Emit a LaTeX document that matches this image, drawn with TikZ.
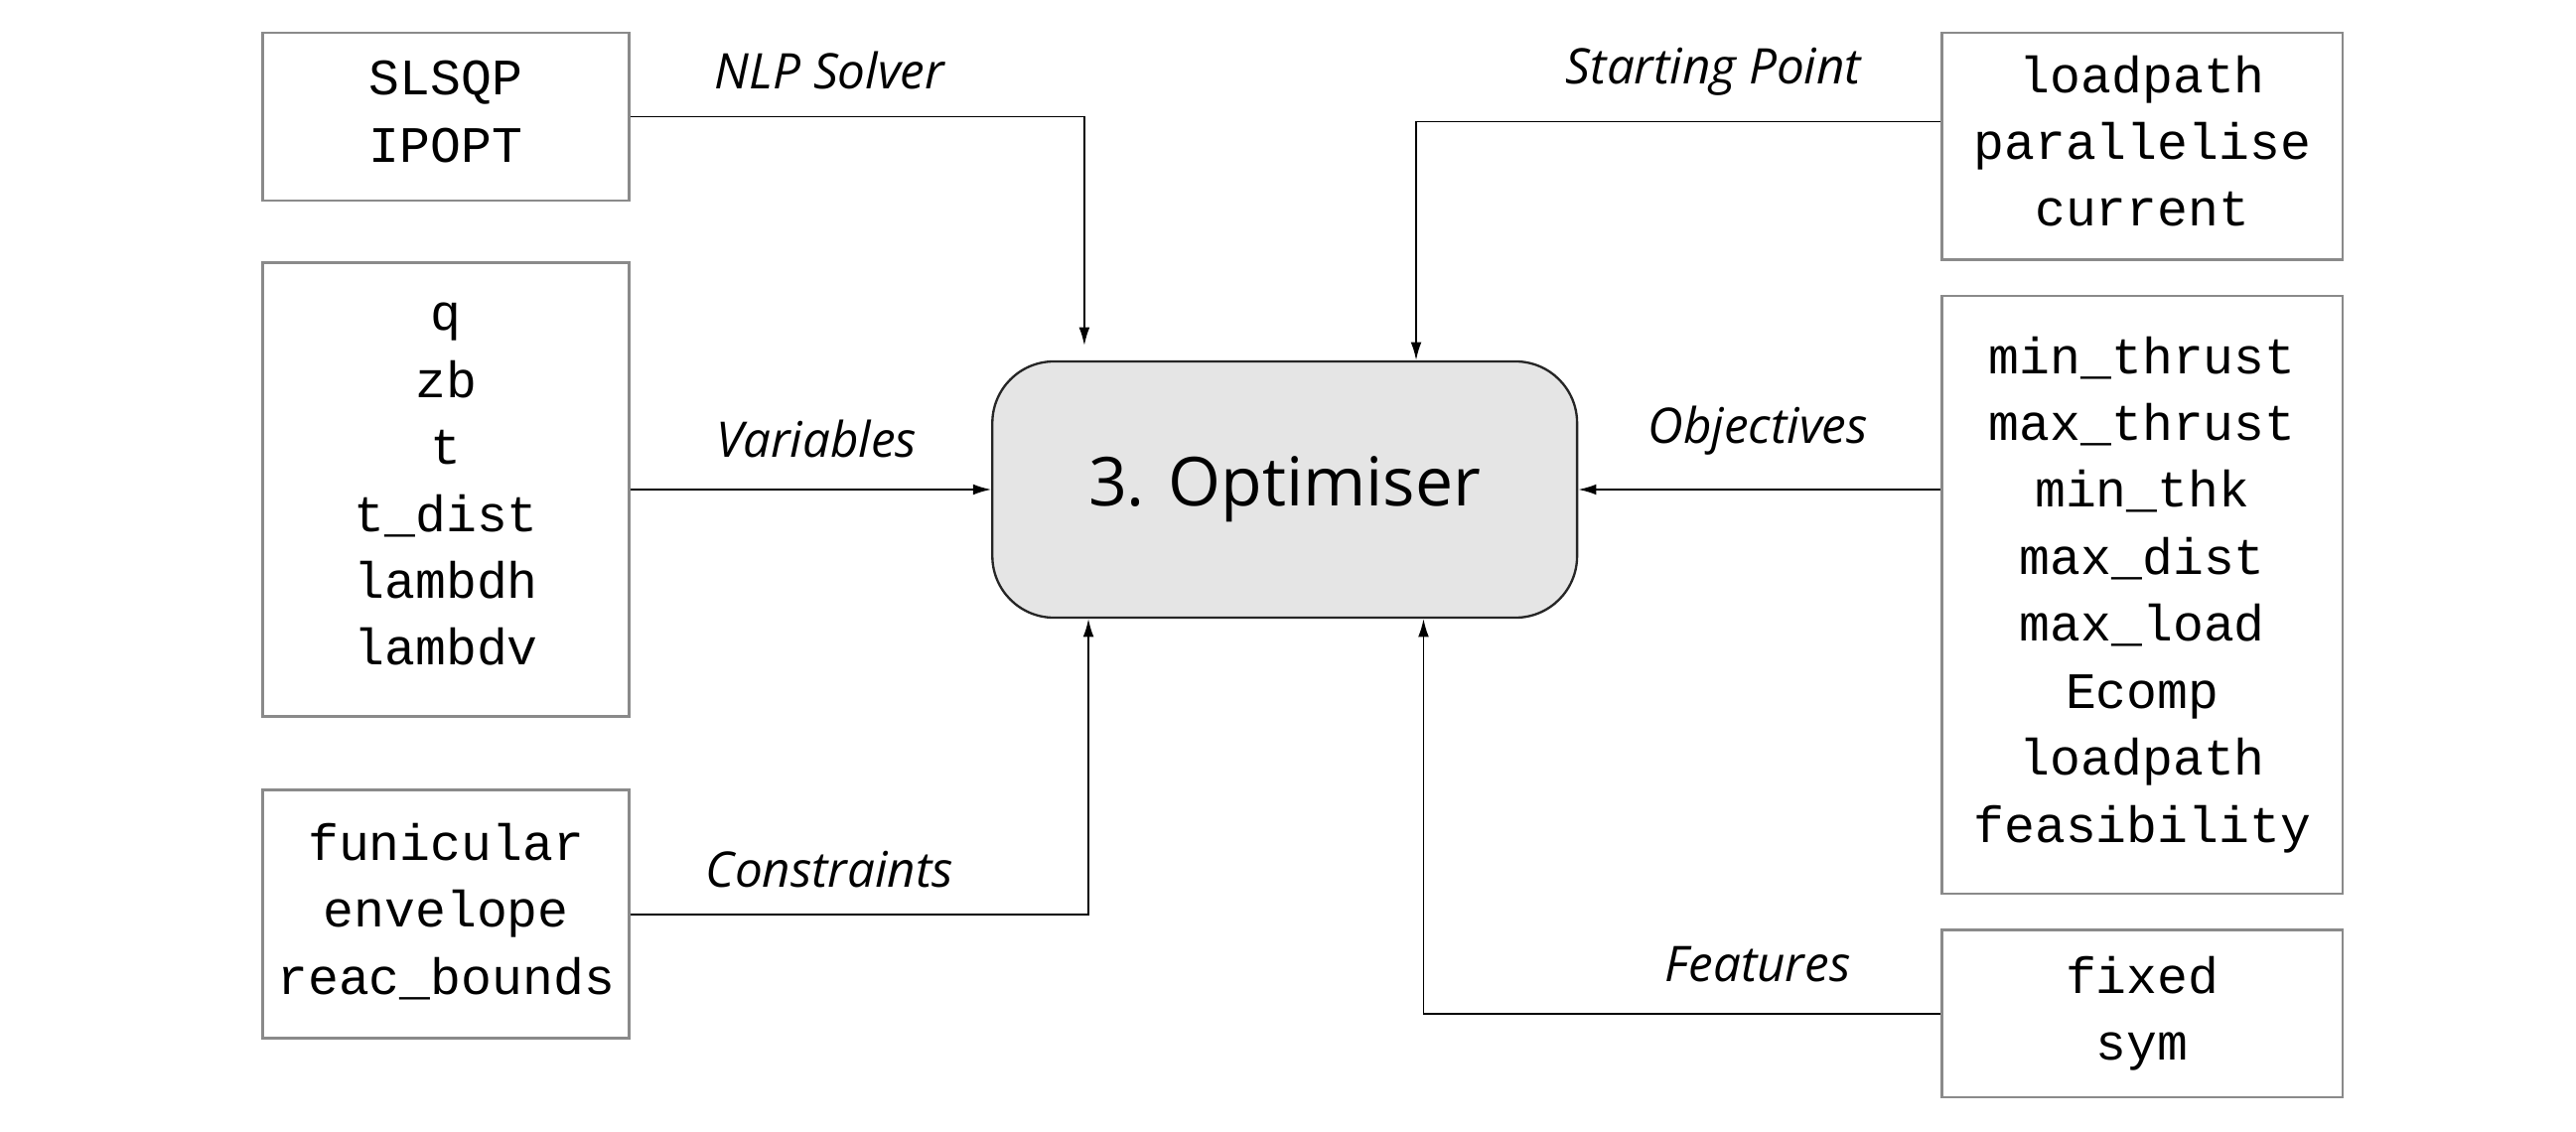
\documentclass[tikz,border=0pt]{standalone}
\usepackage{fontspec}
\setmainfont{Open Sans}
\setmonofont{Liberation Mono}
\usetikzlibrary{arrows.meta}
\definecolor{boxgray}{HTML}{8A8A8A}
\definecolor{optfill}{HTML}{E5E5E5}
\tikzset{
	inbox/.style={draw=boxgray, line width=0.9pt, align=center, text depth=0.13cm, font=\fontsize{17.7}{23.2}\selectfont\ttfamily},
	arr/.style={line width=0.6pt, -{Latex[length=0.22cm, width=0.13cm]}},
	lbl/.style={font=\fontsize{17}{20}\selectfont\itshape}
}
\begin{document}
\begin{tikzpicture}[x=0.02cm, y=-0.02cm]
	\useasboundingbox (0,0) rectangle (1568,689);
	\node[draw=black!85, fill=optfill, line width=0.8pt, rounded corners=0.75cm, minimum width=7.12cm, minimum height=3.12cm, font=\fontsize{23.4}{28}\selectfont] (opt) at (782,298) {3. Optimiser};

	\node[inbox, minimum width=4.46cm, minimum height=2.04cm] (nlp) at (271.5,71) {SLSQP\\IPOPT};
	\node[inbox, minimum width=4.46cm, minimum height=5.52cm] (var) at (271.5,298) {q\\zb\\t\\t\_dist\\lambdh\\lambdv};
	\node[inbox, minimum width=4.46cm, minimum height=3.02cm] (con) at (271.5,556.5) {funicular\\envelope\\reac\_bounds};

	\node[inbox, minimum width=4.88cm, minimum height=2.76cm] (sp) at (1304,89) {loadpath\\parallelise\\current};
	\node[inbox, minimum width=4.88cm, minimum height=7.28cm] (obj) at (1304,362) {min\_thrust\\max\_thrust\\min\_thk\\max\_dist\\max\_load\\Ecomp\\loadpath\\feasibility};
	\node[inbox, minimum width=4.88cm, minimum height=2.04cm] (feat) at (1304,617) {fixed\\sym};

	\draw[arr, shorten >=0.18cm] (nlp.east) -| ([xshift=-2.44cm]opt.north);
	\draw[arr] (var.east) -- (opt.west);
	\draw[arr] (con.east) -| ([xshift=-2.39cm]opt.south);
	\draw[arr] ([yshift=0.3cm]sp.west) -| ([xshift=1.6cm]opt.north);
	\draw[arr] (obj.west |- opt) -- (opt.east);
	\draw[arr] (feat.west) -| ([xshift=1.69cm]opt.south);

	\node[lbl] (nlplbl) at (505,43) {NLP Solver};
	\node[lbl] (varlbl) at (497,267) {Variables};
	\node[lbl] (conlbl) at (505,529) {Constraints};
	\node[lbl] (splbl) at (1043,44) {Starting Point};
	\node[lbl] (objlbl) at (1070,262) {Objectives};
	\node[lbl] (featlbl) at (1070,587) {Features};
\end{tikzpicture}
\end{document}
